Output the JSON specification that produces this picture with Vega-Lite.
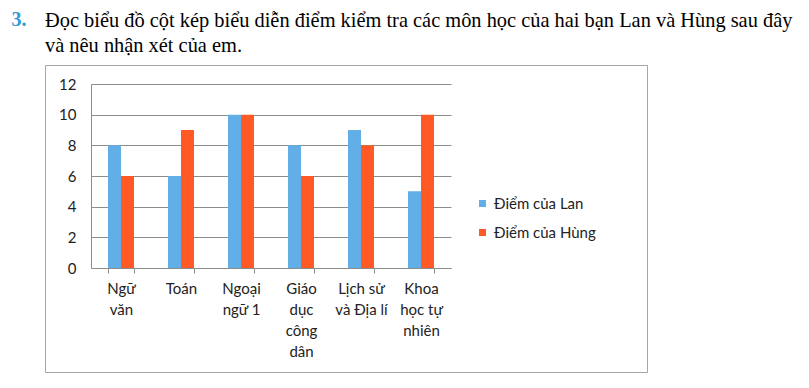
{
  "$schema": "https://vega.github.io/schema/vega-lite/v6.json",
  "autosize": {"type": "none"},
  "padding": {"left": 45, "top": 65, "right": 764, "bottom": 323},
  "background": "white",
  "title": {
    "text": "3.",
    "anchor": "start",
    "dx": -33,
    "offset": -20,
    "font": "Liberation Serif",
    "fontSize": 20,
    "fontWeight": "bold",
    "color": "#2E9BD6"
  },
  "vconcat": [
    {
      "title": {
        "text": ["Đọc biểu đồ cột kép biểu diễn điểm kiểm tra các môn học của hai bạn Lan và Hùng sau đây", "và nêu nhận xét của em."],
        "anchor": "start",
        "offset": 9,
        "font": "Liberation Serif",
        "fontSize": 20.4,
        "fontWeight": "normal",
        "color": "#000000",
        "lineHeight": 25
      },
      "width": 602,
      "height": 307,
      "data": {
        "values": [
          {"mon": "Ngữ văn", "ban": "Điểm của Lan", "diem": 8},
          {"mon": "Ngữ văn", "ban": "Điểm của Hùng", "diem": 6},
          {"mon": "Toán", "ban": "Điểm của Lan", "diem": 6},
          {"mon": "Toán", "ban": "Điểm của Hùng", "diem": 9},
          {"mon": "Ngoại ngữ 1", "ban": "Điểm của Lan", "diem": 10},
          {"mon": "Ngoại ngữ 1", "ban": "Điểm của Hùng", "diem": 10},
          {"mon": "Giáo dục công dân", "ban": "Điểm của Lan", "diem": 8},
          {"mon": "Giáo dục công dân", "ban": "Điểm của Hùng", "diem": 6},
          {"mon": "Lịch sử và Địa lí", "ban": "Điểm của Lan", "diem": 9},
          {"mon": "Lịch sử và Địa lí", "ban": "Điểm của Hùng", "diem": 8},
          {"mon": "Khoa học tự nhiên", "ban": "Điểm của Lan", "diem": 5},
          {"mon": "Khoa học tự nhiên", "ban": "Điểm của Hùng", "diem": 10}
        ]
      },
      "mark": {"type": "bar"},
      "encoding": {
        "x": {
          "field": "mon",
          "type": "nominal",
          "sort": null,
          "scale": {"range": [46, 406], "paddingInner": 0.567, "paddingOuter": 0.2835},
          "axis": {
            "title": null,
            "offset": -104,
            "labelAngle": 0,
            "tickBand": "extent",
            "tickSize": 5,
            "tickColor": "#8c8c8c",
            "domainColor": "#8c8c8c",
            "labelFont": "Lato",
            "labelFontSize": 15,
            "labelColor": "#222222",
            "labelLineHeight": 21,
            "labelPadding": 8,
            "labelBaseline": "top",
            "grid": false,
            "labelExpr": "datum.value == 'Ngữ văn' ? ['Ngữ', 'văn'] : datum.value == 'Ngoại ngữ 1' ? ['Ngoại', 'ngữ 1'] : datum.value == 'Giáo dục công dân' ? ['Giáo', 'dục', 'công', 'dân'] : datum.value == 'Lịch sử và Địa lí' ? ['Lịch sử', 'và Địa lí'] : datum.value == 'Khoa học tự nhiên' ? ['Khoa', 'học tự', 'nhiên'] : datum.value"
          }
        },
        "xOffset": {
          "field": "ban",
          "type": "nominal",
          "sort": ["Điểm của Lan", "Điểm của Hùng"],
          "scale": {"paddingInner": 0, "paddingOuter": 0}
        },
        "y": {
          "field": "diem",
          "type": "quantitative",
          "scale": {"domain": [0, 12], "range": [203, 19], "nice": false},
          "axis": {
            "title": null,
            "offset": -46,
            "values": [0, 2, 4, 6, 8, 10, 12],
            "grid": true,
            "gridColor": "#8c8c8c",
            "domain": true,
            "domainColor": "#8c8c8c",
            "ticks": false,
            "labelPadding": 15,
            "labelFont": "Lato",
            "labelFontSize": 15,
            "labelColor": "#222222"
          }
        },
        "color": {
          "field": "ban",
          "type": "nominal",
          "sort": ["Điểm của Lan", "Điểm của Hùng"],
          "scale": {"domain": ["Điểm của Lan", "Điểm của Hùng"], "range": ["#62AEE6", "#FF5A26"]},
          "legend": {
            "title": null,
            "orient": "none",
            "legendX": 430,
            "legendY": 131,
            "symbolType": "square",
            "symbolSize": 49,
            "symbolStrokeWidth": 0,
            "labelFont": "Lato",
            "labelFontSize": 15,
            "labelColor": "#222222",
            "labelOffset": 4,
            "rowPadding": 13,
            "padding": 0
          }
        }
      }
    }
  ],
  "config": {
    "view": {"stroke": "#a6a6a6", "strokeWidth": 1}
  }
}
